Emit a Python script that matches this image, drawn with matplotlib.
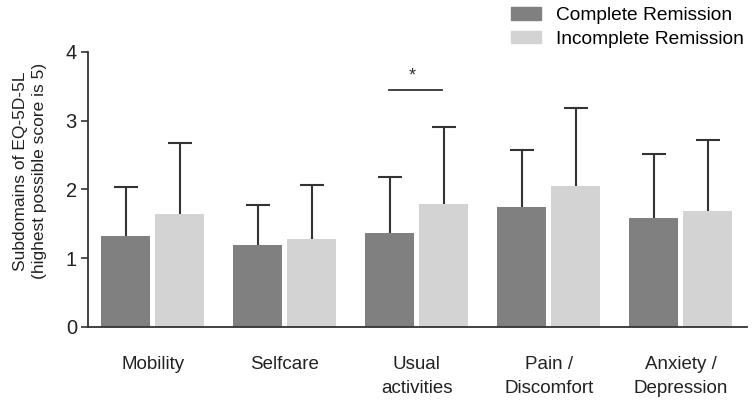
import numpy as np
import matplotlib
matplotlib.use("Agg")
import matplotlib.pyplot as plt
from matplotlib.patches import Patch

plt.rcParams['font.family'] = ['Liberation Sans', 'DejaVu Sans']

categories = ["Mobility", "Selfcare", "Usual\nactivities", "Pain /\nDiscomfort", "Anxiety /\nDepression"]
complete_mean = [1.32, 1.19, 1.37, 1.75, 1.59]
complete_upper = [2.04, 1.77, 2.18, 2.57, 2.51]
incomplete_mean = [1.64, 1.28, 1.79, 2.05, 1.69]
incomplete_upper = [2.67, 2.07, 2.91, 3.18, 2.72]
series_names = ["Complete Remission", "Incomplete Remission"]

dark = "#808080"
light = "#d3d3d3"
ink = "#333333"

fig = plt.figure(figsize=(7.55, 4.03), dpi=100)
ax = fig.add_axes([0.1166, 0.1886, 0.8724, 0.6824])

x = np.arange(len(categories))
w = 0.371
shift = 0.205
cap = 0.09

ax.bar(x - shift, complete_mean, w, color=dark, zorder=2)
ax.bar(x + shift, incomplete_mean, w, color=light, zorder=2)

# upper-only error bars
for pos, lo, hi in [(x - shift, complete_mean, complete_upper),
                    (x + shift, incomplete_mean, incomplete_upper)]:
    ax.vlines(pos, lo, hi, color=ink, lw=1.5, zorder=1)
    ax.hlines(hi, pos - cap, pos + cap, color=ink, lw=1.5, zorder=1)

# significance marker for usual activities
ax.plot([2 - 0.21, 2 + 0.19], [3.45, 3.45], color=ink, lw=1.3)
ax.text(1.97, 3.53, "*", ha='center', va='bottom', fontsize=13, color=ink)

ax.set_xlim(-0.49, 4.5)
ax.set_ylim(0, 4)
ax.set_yticks([0, 1, 2, 3, 4])
ax.set_xticks(x)
ax.set_xticklabels(categories, fontsize=13.5, color="#222222", linespacing=1.5)
ax.tick_params(axis='x', length=0, pad=21)
ax.tick_params(axis='y', labelsize=14.5, colors=ink, length=5, width=1.2,
               labelcolor="#222222", pad=3)
for s in ['top', 'right']:
    ax.spines[s].set_visible(False)
for s in ['left', 'bottom']:
    ax.spines[s].set_color(ink)
    ax.spines[s].set_linewidth(1.3)

ax.set_ylabel("Subdomains of EQ-5D-5L\n(highest possible score is 5)", fontsize=12.5,
              color="#222222", linespacing=1.35)
ax.yaxis.set_label_coords(-0.062, 0.567)

handles = [Patch(color=dark), Patch(color=light)]
fig.legend(handles, series_names, loc='upper left', bbox_to_anchor=(0.654, 1.025),
           frameon=False, fontsize=13.8, handlelength=1.55, handleheight=0.6,
           labelspacing=0.35, handletextpad=0.82)

fig.savefig("out.png", dpi=100)
